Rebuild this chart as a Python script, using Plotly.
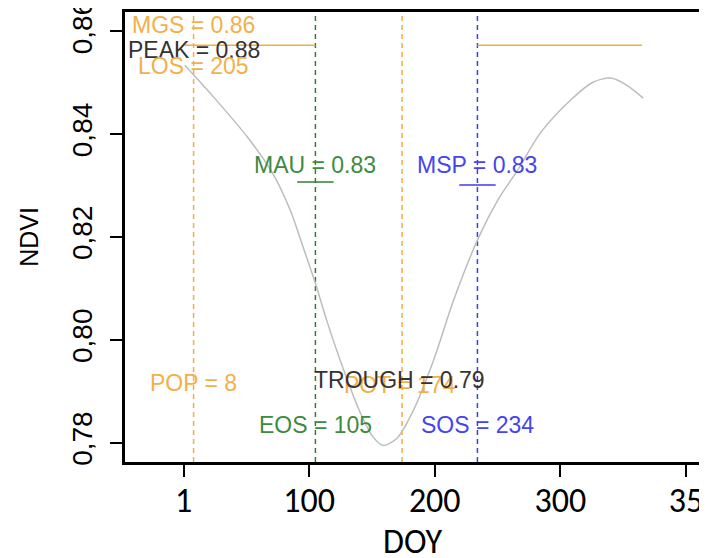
import plotly.graph_objects as go

# ---- data ----
doy = [1, 24, 51, 71, 85, 95, 105, 114, 127, 141, 151, 159, 170, 183, 199, 215, 234, 250, 266, 284, 308, 326, 340, 353, 366]
ndvi = [0.8534, 0.8472, 0.8394, 0.8324, 0.8252, 0.8182, 0.8110, 0.8038, 0.7945, 0.7857, 0.7811, 0.7795, 0.7809,
        0.7863, 0.7960, 0.8077, 0.8194, 0.8271, 0.8330, 0.8402, 0.8466, 0.8501, 0.8509, 0.8495, 0.8470]

pop, eos, pot, sos = 8, 105, 174, 234
mgs_level = 0.8573
mgs_seg1 = [1, 105]
mgs_seg2 = [234, 365]
mau_val, msp_val = 0.8307, 0.8301

x_tickvals = [0, 100, 200, 300, 400]
x_ticktext = ["1", "100", "200", "300", "35"]
y_tickvals = [0.78, 0.80, 0.82, 0.84, 0.86]
y_ticktext = ["0,78", "0,80", "0,82", "0,84", "0,86"]
x_title = "DOY"
y_title = "NDVI"

# labels: (text, x, y, colour)
labels = [
    ("MGS = 0.86", 8, 0.86117, "orange"),
    ("PEAK = 0.88", 8, 0.85631, "black"),
    ("LOS = 205", 8, 0.8532, "orange"),
    ("MAU = 0.83", 105, 0.8341, "green"),
    ("MSP = 0.83", 234, 0.8341, "blue"),
    ("POP = 8", 8, 0.79157, "orange"),
    ("POT = 174", 172, 0.79118, "orange"),
    ("TROUGH = 0.79", 172, 0.79229, "black"),
    ("EOS = 105", 105, 0.7834, "green"),
    ("SOS = 234", 234, 0.7834, "blue"),
]

ORANGE = "#F4AE3A"
GREEN = "#2F7F33"
BLUE = "#3D3DEB"
TXT = {"orange": "#F3B04A", "green": "#3E8A40", "blue": "#4545EE", "black": "#333333"}

YMIN, YMAX = 0.77627, 0.86375

fig = go.Figure()

# vertical dashed lines
for xv, col in [(pop, ORANGE), (eos, GREEN), (pot, ORANGE), (sos, BLUE)]:
    fig.add_trace(go.Scatter(x=[xv, xv], y=[YMIN, YMAX], mode="lines",
                             line=dict(color=col, width=1.5, dash="5px,4px"),
                             showlegend=False, hoverinfo="skip"))

# horizontal orange segments
for seg in (mgs_seg1, mgs_seg2):
    fig.add_trace(go.Scatter(x=seg, y=[mgs_level, mgs_level], mode="lines",
                             line=dict(color=ORANGE, width=1.5),
                             showlegend=False, hoverinfo="skip"))

# curve
fig.add_trace(go.Scatter(x=doy, y=ndvi, mode="lines",
                         line=dict(color="#BDBDBD", width=1.5, shape="spline", smoothing=0.8),
                         showlegend=False))

# MAU / MSP markers
fig.add_trace(go.Scatter(x=[eos], y=[mau_val], mode="markers",
                         marker=dict(symbol="line-ew", size=26, line=dict(color=GREEN, width=1.5)),
                         showlegend=False))
fig.add_trace(go.Scatter(x=[sos], y=[msp_val], mode="markers",
                         marker=dict(symbol="line-ew", size=26, line=dict(color=BLUE, width=1.5)),
                         showlegend=False))

for text, xv, yv, c in labels:
    fig.add_annotation(x=xv, y=yv, text=text, showarrow=False,
                       font=dict(family="Liberation Sans, Arial, sans-serif", size=23, color=TXT[c]),
                       xanchor="center", yanchor="middle")

# x-axis title placed as paper annotation (sits at the bottom edge as in the reference)
fig.add_annotation(x=0.5, y=-0.177, xref="paper", yref="paper", text=x_title, showarrow=False,
                   font=dict(family="Carlito, Lato, Liberation Sans, sans-serif", size=34, color="black"),
                   xanchor="center", yanchor="middle")

# the page body has an 8px default margin, so the figure is sized to fit the window
fig.update_layout(
    width=699, height=550,
    margin=dict(l=117, r=6, t=4, b=96),
    paper_bgcolor="white", plot_bgcolor="white",
    showlegend=False,
)
fig.update_xaxes(
    range=[-46.6, 412.0], tickvals=x_tickvals, ticktext=x_ticktext,
    showline=True, linecolor="black", linewidth=3, mirror=True,
    ticks="outside", ticklen=12, tickwidth=2, tickcolor="black",
    showgrid=False, zeroline=False, automargin=False, ticklabeloverflow="allow",
    tickfont=dict(family="Carlito, Lato, Liberation Sans, sans-serif", size=34, color="black"),
    ticklabelstandoff=-6,
)
fig.update_yaxes(
    range=[YMIN, YMAX], tickvals=y_tickvals, ticktext=y_ticktext,
    showline=True, linecolor="black", linewidth=3, mirror=True,
    ticks="outside", ticklen=12, tickwidth=2, tickcolor="black",
    showgrid=False, zeroline=False, tickangle=-90, automargin=False, ticklabeloverflow="allow",
    tickfont=dict(family="Liberation Sans, Arial, sans-serif", size=28, color="black"),
    ticklabelstandoff=7,
    title=dict(text=y_title, font=dict(family="Liberation Sans, Arial, sans-serif", size=25, color="black"),
               standoff=22),
)

fig.write_html("out.html")
